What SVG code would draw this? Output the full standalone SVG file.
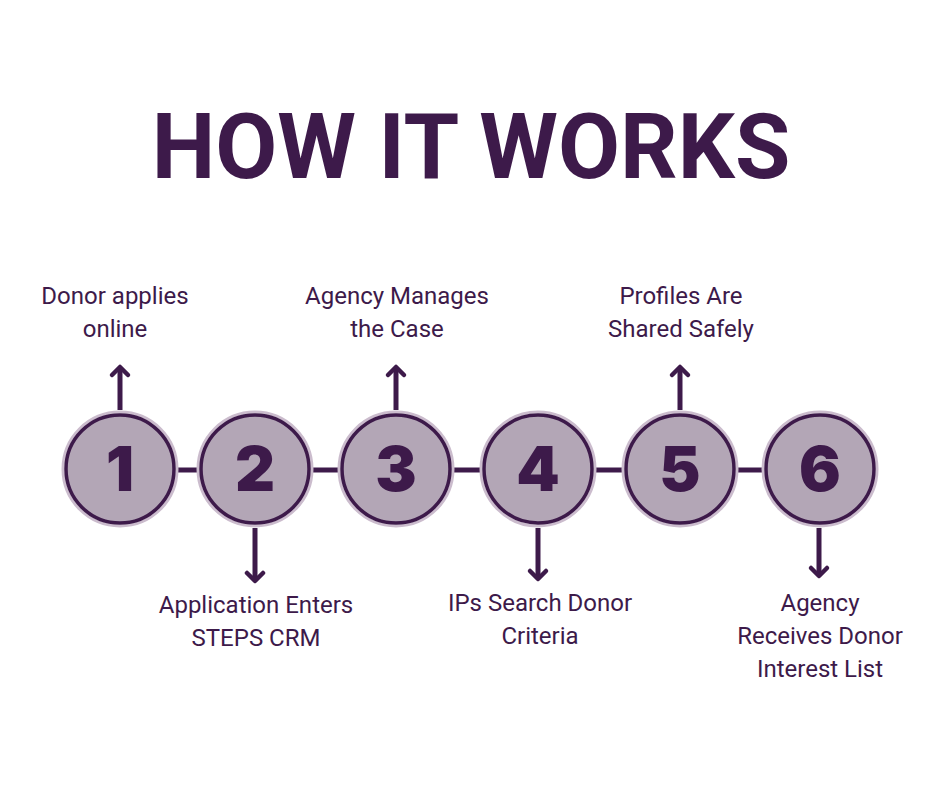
<svg xmlns="http://www.w3.org/2000/svg" width="940" height="788" viewBox="0 0 940 788">
<style>
.t{font-family:Roboto,"Liberation Sans",sans-serif;font-size:24px;fill:#3d1a4a;text-anchor:middle}
.n{font-family:Inter,"DejaVu Sans",sans-serif;font-weight:900;font-size:62px;fill:#3d1a4a;text-anchor:middle}
.c{fill:#b3a6b6;stroke:#3d1a4a;stroke-width:3.5}
.o{fill:none;stroke:#cbbccd;stroke-width:3}
.l{stroke:#3d1a4a;stroke-width:5;fill:none}
.h{stroke:#3d1a4a;stroke-width:4.5;fill:none;stroke-linecap:round;stroke-linejoin:round}
</style>
<rect width="940" height="788" fill="#fff"/>
<text x="471" y="178" font-family="Roboto,'Liberation Sans',sans-serif" font-weight="700" font-size="90" fill="#3d1a4a" text-anchor="middle">HOW IT WORKS</text>
<g id="connectors">
<line class="l" x1="176" y1="470" x2="198" y2="470"/>
<line class="l" x1="312" y1="470" x2="340" y2="470"/>
<line class="l" x1="454" y1="470" x2="482" y2="470"/>
<line class="l" x1="596" y1="470" x2="624" y2="470"/>
<line class="l" x1="738" y1="470" x2="764" y2="470"/>
<line class="l" x1="120" y1="410" x2="120" y2="368"/><path class="h" d="M112,375 L120,367 L128,375"/>
<line class="l" x1="396" y1="410" x2="396" y2="368"/><path class="h" d="M388,375 L396,367 L404,375"/>
<line class="l" x1="680" y1="410" x2="680" y2="368"/><path class="h" d="M672,375 L680,367 L688,375"/>
<line class="l" x1="255" y1="528" x2="255" y2="580"/><path class="h" d="M247,573 L255,581 L263,573"/>
<line class="l" x1="538" y1="528" x2="538" y2="578"/><path class="h" d="M530,571 L538,579 L546,571"/>
<line class="l" x1="819" y1="528" x2="819" y2="575"/><path class="h" d="M811,568 L819,576 L827,568"/>
</g>
<g id="n1"><circle class="o" cx="120" cy="469" r="57"/><circle class="c" cx="120" cy="469" r="54"/><text class="n" x="120" y="491">1</text></g>
<g id="n2"><circle class="o" cx="255" cy="469" r="57"/><circle class="c" cx="255" cy="469" r="54"/><text class="n" x="255" y="491">2</text></g>
<g id="n3"><circle class="o" cx="396" cy="469" r="57"/><circle class="c" cx="396" cy="469" r="54"/><text class="n" x="396" y="491">3</text></g>
<g id="n4"><circle class="o" cx="538" cy="469" r="57"/><circle class="c" cx="538" cy="469" r="54"/><text class="n" x="538" y="491">4</text></g>
<g id="n5"><circle class="o" cx="680" cy="469" r="57"/><circle class="c" cx="680" cy="469" r="54"/><text class="n" x="680" y="491">5</text></g>
<g id="n6"><circle class="o" cx="820" cy="469" r="57"/><circle class="c" cx="820" cy="469" r="54"/><text class="n" x="820" y="491">6</text></g>
<g id="labels">
<text class="t" x="115" y="304">Donor applies</text><text class="t" x="115" y="337">online</text>
<text class="t" x="397" y="304">Agency Manages</text><text class="t" x="397" y="337">the Case</text>
<text class="t" x="681" y="304">Profiles Are</text><text class="t" x="681" y="337">Shared Safely</text>
<text class="t" x="256" y="613">Application Enters</text><text class="t" x="256" y="646">STEPS CRM</text>
<text class="t" x="540" y="611">IPs Search Donor</text><text class="t" x="540" y="644">Criteria</text>
<text class="t" x="820" y="611">Agency</text><text class="t" x="820" y="644">Receives Donor</text><text class="t" x="820" y="677">Interest List</text>
</g>
</svg>
